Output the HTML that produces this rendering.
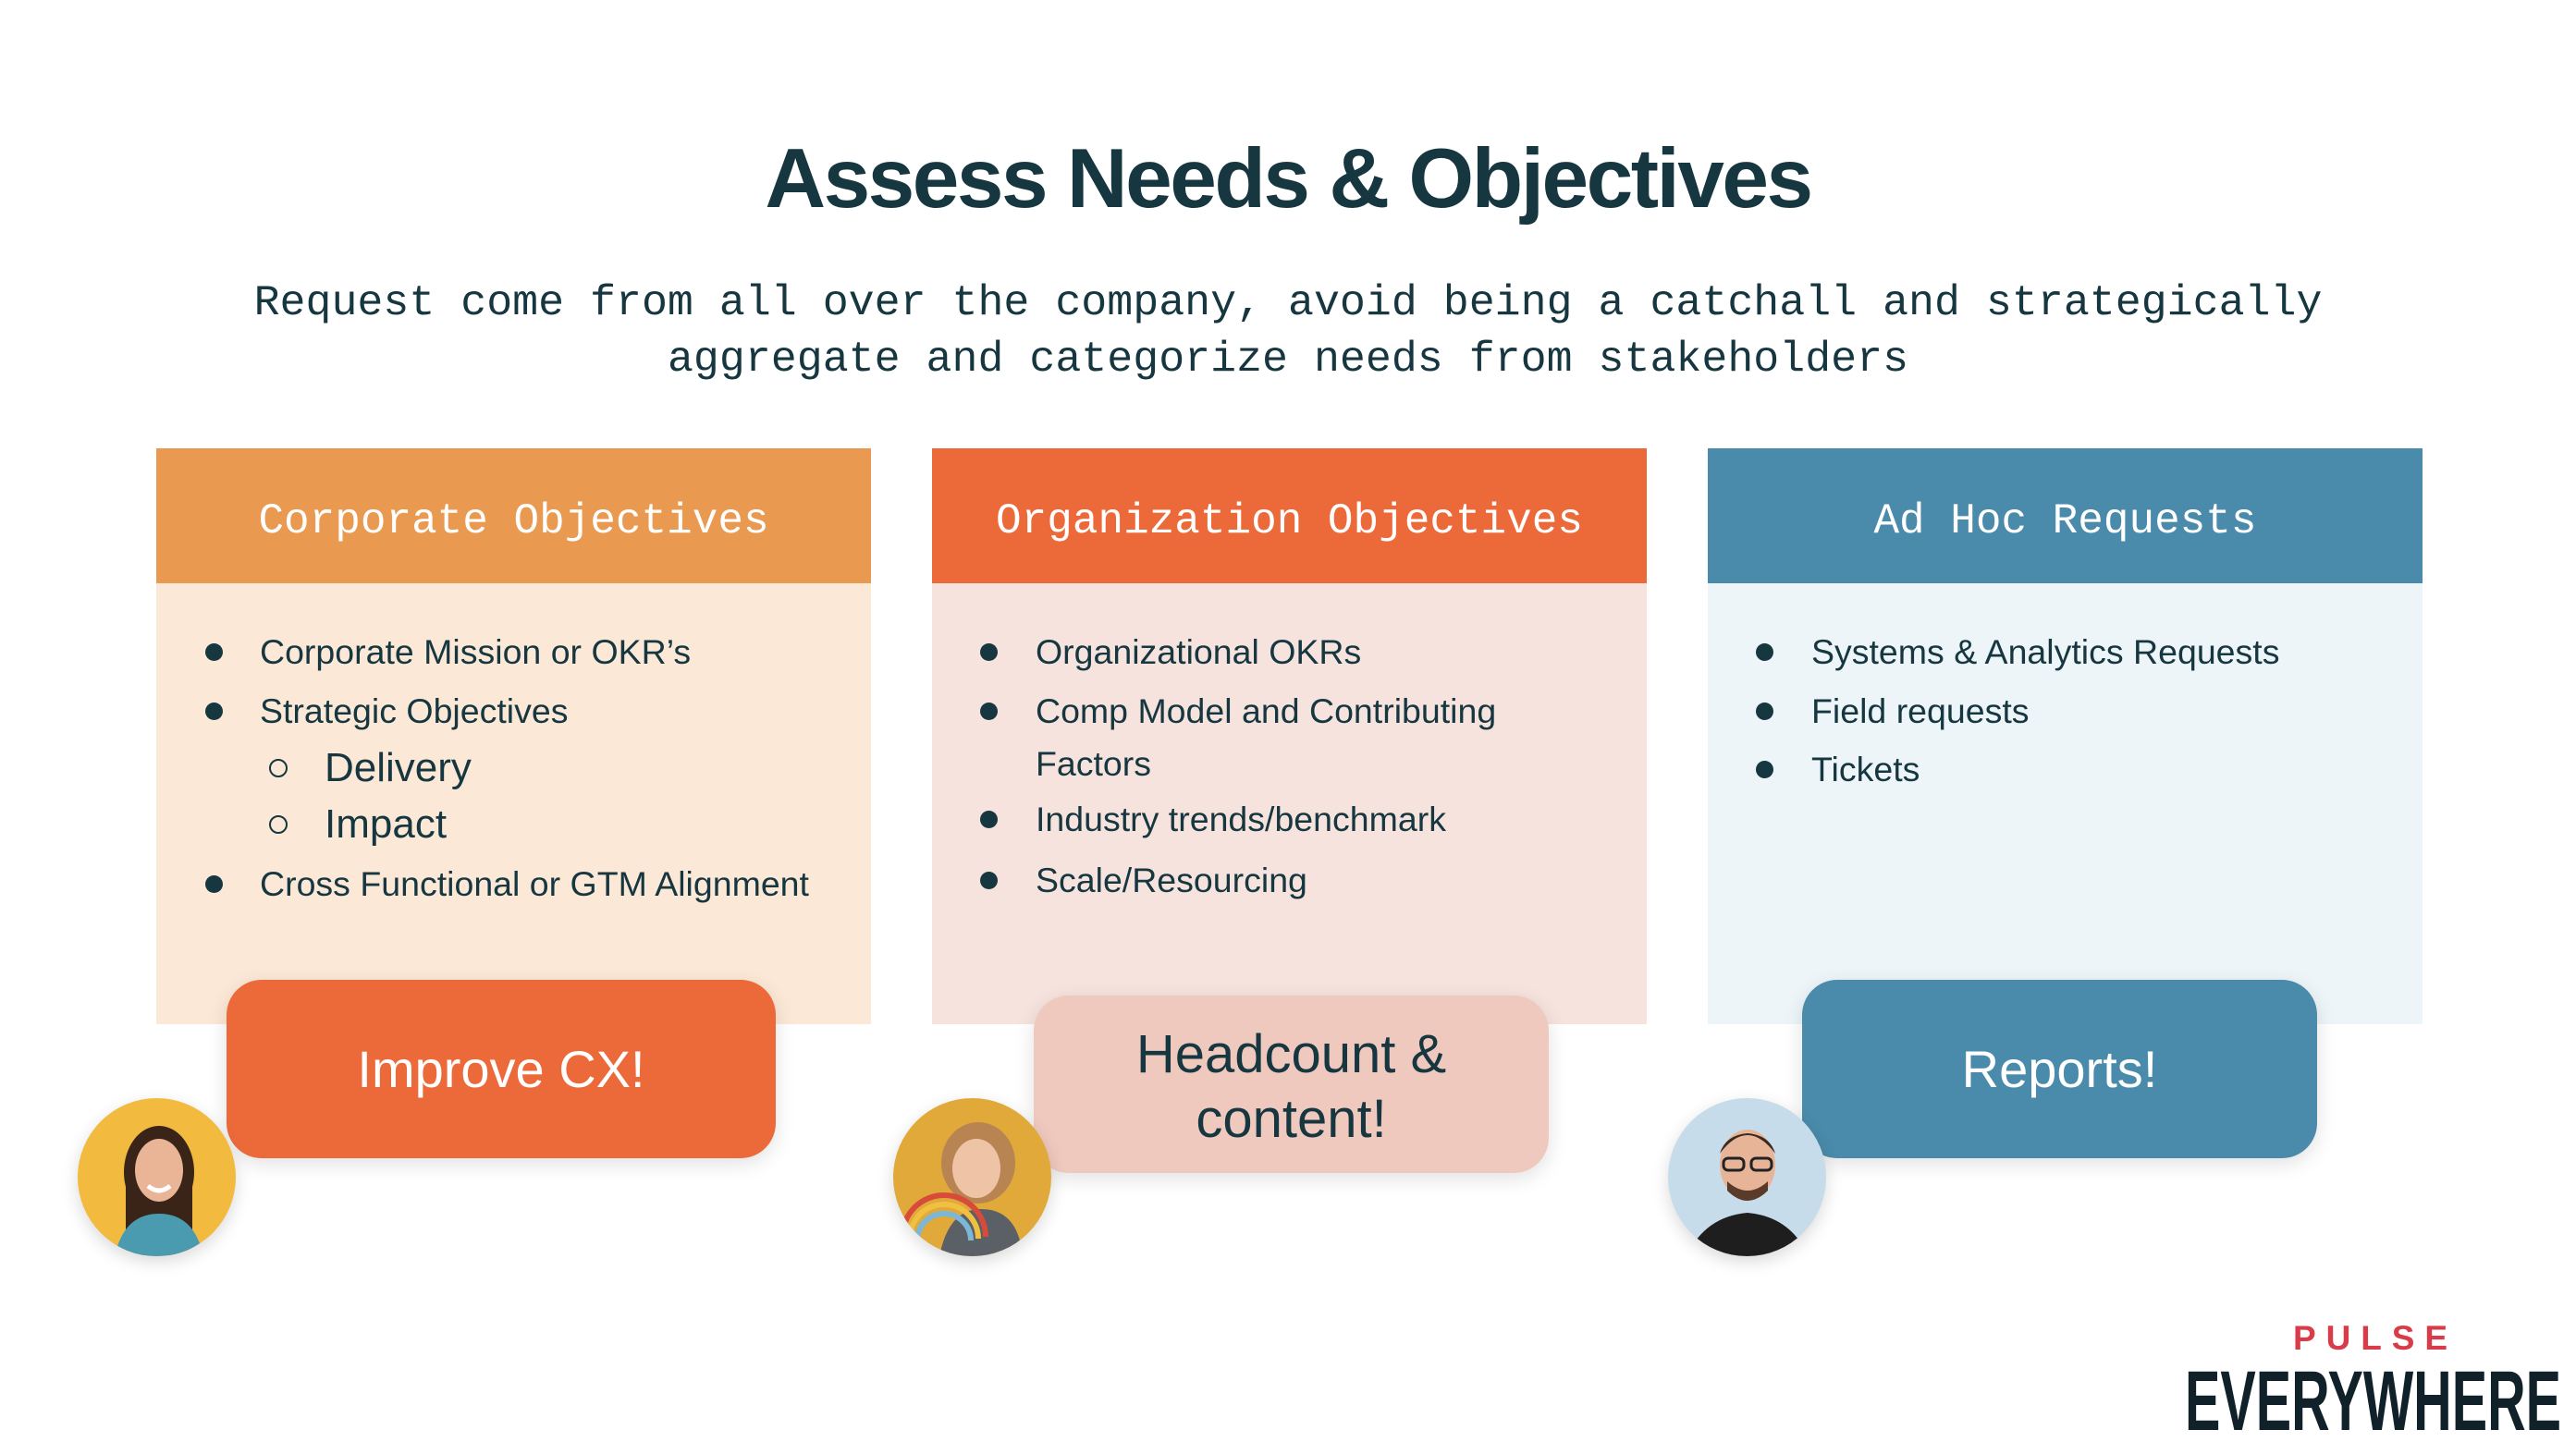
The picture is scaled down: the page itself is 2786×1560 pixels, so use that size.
<!DOCTYPE html>
<html><head><meta charset="utf-8"><style>
*{margin:0;padding:0;box-sizing:border-box}
body{width:2786px;height:1560px;background:#fff;position:relative;overflow:hidden;font-family:"Liberation Sans",sans-serif;color:#163640}
.abs{position:absolute}
.title{left:0;width:2786px;top:144px;text-align:center;font-size:91px;font-weight:bold;letter-spacing:-2.5px;line-height:100px;color:#163640}
.sub{left:0;width:2786px;top:297px;text-align:center;font-family:"Liberation Mono",monospace;font-size:46.6px;line-height:61px;color:#163640}
.card{top:485px;width:773px;height:623px}
.hd{position:absolute;left:0;top:0;width:100%;height:146px;color:#fff;font-family:"Liberation Mono",monospace;font-size:46px;line-height:146px;text-align:center;padding-top:6px}
.li{position:absolute;font-size:37.5px;line-height:44px;white-space:nowrap;color:#163640}
.dot{position:absolute;width:19px;height:19px;border-radius:50%;background:#163640}
.ring{position:absolute;width:20px;height:20px;border-radius:50%;border:2.5px solid #163640}
.box{position:absolute;border-radius:38px;text-align:center;font-size:56px;box-shadow:0 6px 22px rgba(0,0,0,0.12)}
.av{position:absolute;width:171px;height:171px;border-radius:50%;overflow:hidden;box-shadow:0 6px 18px rgba(0,0,0,0.15)}
</style></head><body>
<div class="abs title">Assess Needs &amp; Objectives</div>
<div class="abs sub">Request come from all over the company, avoid being a catchall and strategically<br>aggregate and categorize needs from stakeholders</div>

<!-- Card 1 -->
<div class="abs card" style="left:169px;background:#fce8d6">
<div class="hd" style="background:#e99a50">Corporate Objectives</div>
</div>
<div class="dot" style="left:222px;top:696px"></div><div class="li" style="left:281px;top:683px">Corporate Mission or OKR’s</div>
<div class="dot" style="left:222px;top:760px"></div><div class="li" style="left:281px;top:747px">Strategic Objectives</div>
<div class="ring" style="left:291px;top:821px"></div><div class="li" style="left:351px;top:805px;font-size:44px;line-height:52px">Delivery</div>
<div class="ring" style="left:291px;top:882px"></div><div class="li" style="left:351px;top:866px;font-size:44px;line-height:52px">Impact</div>
<div class="dot" style="left:222px;top:947px"></div><div class="li" style="left:281px;top:934px">Cross Functional or GTM Alignment</div>

<!-- Card 2 -->
<div class="abs card" style="left:1008px;background:#f6e3de">
<div class="hd" style="background:#ec6a3a">Organization Objectives</div>
</div>
<div class="dot" style="left:1060px;top:696px"></div><div class="li" style="left:1120px;top:683px">Organizational OKRs</div>
<div class="dot" style="left:1060px;top:760px"></div><div class="li" style="left:1120px;top:747px">Comp Model and Contributing</div>
<div class="li" style="left:1120px;top:804px">Factors</div>
<div class="dot" style="left:1060px;top:877px"></div><div class="li" style="left:1120px;top:864px">Industry trends/benchmark</div>
<div class="dot" style="left:1060px;top:943px"></div><div class="li" style="left:1120px;top:930px">Scale/Resourcing</div>

<!-- Card 3 -->
<div class="abs card" style="left:1847px;background:#edf5f9">
<div class="hd" style="background:#4a8bab">Ad Hoc Requests</div>
</div>
<div class="dot" style="left:1899px;top:696px"></div><div class="li" style="left:1959px;top:683px">Systems &amp; Analytics Requests</div>
<div class="dot" style="left:1899px;top:760px"></div><div class="li" style="left:1959px;top:747px">Field requests</div>
<div class="dot" style="left:1899px;top:823px"></div><div class="li" style="left:1959px;top:810px">Tickets</div>

<!-- Boxes -->
<div class="box" style="left:245px;top:1060px;width:594px;height:193px;background:#ec6a3a;color:#fff;line-height:193px">Improve CX!</div>
<div class="box" style="left:1118px;top:1077px;width:557px;height:192px;background:#f0c9be;color:#163640;font-size:58px;line-height:70px;padding-top:29px">Headcount &amp;<br>content!</div>
<div class="box" style="left:1949px;top:1060px;width:557px;height:193px;background:#4a8bab;color:#fff;line-height:193px">Reports!</div>

<!-- Avatars -->
<div class="av" style="left:84px;top:1188px;background:#f2bb3f">
<svg width="171" height="171"><ellipse cx="88" cy="80" rx="38" ry="50" fill="#3a2418"/><rect x="52" y="80" width="72" height="90" fill="#3a2418"/><ellipse cx="88" cy="78" rx="26" ry="34" fill="#e9b596"/><path d="M40 171 Q50 125 88 125 Q126 125 136 171Z" fill="#4a9bb0"/><path d="M76 95 Q88 105 100 95" stroke="#fff" stroke-width="5" fill="none"/></svg>
</div>
<div class="av" style="left:966px;top:1188px;background:#e0a93a">
<svg width="171" height="171"><ellipse cx="92" cy="70" rx="40" ry="44" fill="#b88451"/><ellipse cx="90" cy="76" rx="26" ry="32" fill="#efc4a6"/><path d="M50 171 Q60 120 95 120 Q135 120 140 171Z" fill="#5a6066"/><path d="M10 150 A45 45 0 0 1 100 150" stroke="#d84a3a" stroke-width="6" fill="none"/><path d="M18 152 A37 37 0 0 1 92 152" stroke="#f0c040" stroke-width="6" fill="none"/><path d="M26 154 A29 29 0 0 1 84 154" stroke="#7db7d8" stroke-width="6" fill="none"/></svg>
</div>
<div class="av" style="left:1804px;top:1188px;background:#c7dcea">
<svg width="171" height="171"><ellipse cx="86" cy="72" rx="30" ry="38" fill="#e8b497"/><path d="M56 60 Q86 20 116 60 Q110 40 86 38 Q62 40 56 60Z" fill="#3a2a20"/><path d="M64 100 Q86 122 108 100 L108 90 Q86 110 64 90Z" fill="#5a3a28"/><rect x="60" y="65" width="22" height="13" rx="5" fill="none" stroke="#222" stroke-width="3"/><rect x="90" y="65" width="22" height="13" rx="5" fill="none" stroke="#222" stroke-width="3"/><path d="M20 171 Q40 128 86 124 Q132 128 152 171Z" fill="#1e1e1e"/></svg>
</div>

<!-- Logo -->
<svg class="abs" style="left:2340px;top:1420px" width="446" height="140">
<text x="140" y="40" font-family="Liberation Sans" font-weight="bold" font-size="37" fill="#d93b48" textLength="167" lengthAdjust="spacing">PULSE</text>
<text x="23" y="127" font-family="Liberation Sans Narrow, Liberation Sans" font-weight="bold" font-size="92" fill="#112129" textLength="407" lengthAdjust="spacingAndGlyphs">EVERYWHERE</text>
</svg>
</body></html>
